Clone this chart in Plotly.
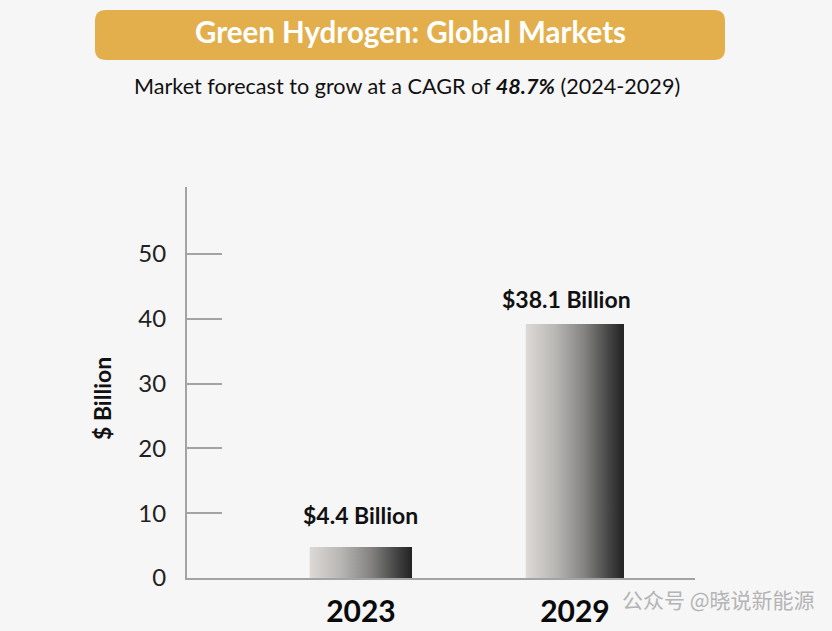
import plotly.graph_objects as go

categories = ["2023", "2029"]
positions = [0, 1]
values = [4.8, 39.2]
bar_widths = [0.477, 0.458]
value_labels = ["$4.4 Billion", "$38.1 Billion"]
y_ticks = [0, 10, 20, 30, 40, 50]

FONT = "Lato, Carlito, Open Sans, sans-serif"
GRADIENT = [[0, "#DCD9D6"], [0.3, "#B9B7B4"], [0.6, "#838281"], [0.85, "#444444"], [1, "#222222"]]
AXIS = "#A3A3A6"

fig = go.Figure()
fig.add_trace(go.Bar(x=positions, y=values, width=bar_widths, marker=dict(color="#808080", line_width=0),
                     hoverinfo="skip"))

for p, v, w in zip(positions, values, bar_widths):
    fig.add_trace(go.Scatter(
        x=[p - w / 2, p - w / 2, p + w / 2, p + w / 2, p - w / 2],
        y=[0, v, v, 0, 0],
        mode="lines", line=dict(width=0), fill="toself",
        fillgradient=dict(type="horizontal", colorscale=GRADIENT),
        hoverinfo="skip"))

for p, v, label, xs, ys in zip(positions, values, value_labels, [0, -8], [16, 9]):
    fig.add_annotation(x=p, y=v, text=f"<b>{label}</b>", showarrow=False, yanchor="bottom",
                       xshift=xs, yshift=ys, font=dict(family=FONT, size=23, color="#111111"))

fig.update_layout(
    width=832, height=631, showlegend=False,
    paper_bgcolor="#F6F6F7", plot_bgcolor="#F6F6F7",
    margin=dict(l=187, r=137, t=187, b=53, autoexpand=False),
    xaxis=dict(range=[-0.813, 1.561], tickvals=positions, ticktext=[f"<b>{c}</b>" for c in categories],
               showgrid=False, zeroline=False, showline=True, linecolor=AXIS, linewidth=2, ticks="",
               tickfont=dict(family=FONT, size=30, color="#0A0A0A"), ticklabelstandoff=6),
    yaxis=dict(range=[0, 60.34], tickvals=y_ticks, showgrid=False, zeroline=False,
               showline=True, linecolor=AXIS, linewidth=2,
               ticks="inside", ticklen=35, tickcolor=AXIS, tickwidth=1.5,
               tickfont=dict(family=FONT, size=24, color="#222222"), ticklabelstandoff=14),
)
# Banner in pixel-derived paper coordinates
W, H, L, T = 508.0, 391.0, 187.0, 187.0
def px(x): return (x - L) / W
def py(y): return 1 - (y - T) / H
x0, x1, y0, y1, r = 95, 725, 10, 60, 11
path = (f"M {px(x0+r)} {py(y0)} L {px(x1-r)} {py(y0)} Q {px(x1)} {py(y0)} {px(x1)} {py(y0+r)} "
        f"L {px(x1)} {py(y1-r)} Q {px(x1)} {py(y1)} {px(x1-r)} {py(y1)} L {px(x0+r)} {py(y1)} "
        f"Q {px(x0)} {py(y1)} {px(x0)} {py(y1-r)} L {px(x0)} {py(y0+r)} Q {px(x0)} {py(y0)} {px(x0+r)} {py(y0)} Z")
fig.layout.shapes = [dict(type="path", xref="paper", yref="paper", path=path, fillcolor="#E3AF4C", line_width=0)]

fig.add_annotation(xref="paper", yref="paper", x=px(410), y=py(32), xanchor="center", yanchor="middle",
                   text="<b>Green Hydrogen: Global Markets</b>",
                   showarrow=False, font=dict(family=FONT, size=29.5, color="#FFFFFF"))
fig.add_annotation(xref="paper", yref="paper", x=px(407), y=py(86), xanchor="center", yanchor="middle",
                   text="Market forecast to grow at a CAGR of <b><i>48.7%</i></b> (2024-2029)",
                   showarrow=False, font=dict(family=FONT, size=21.6, color="#111111"))
fig.add_annotation(xref="paper", yref="paper", x=px(102), y=py(399), xanchor="center", yanchor="middle",
                   text="<b>$ Billion</b>", textangle=-90,
                   showarrow=False, font=dict(family=FONT, size=23, color="#111111"))
fig.add_annotation(xref="paper", yref="paper", x=px(817), y=py(599), xanchor="right", yanchor="middle",
                   text="公众号 @晓说新能源", showarrow=False,
                   font=dict(family="Noto Sans CJK SC", size=21, color="#B4B4B4"))

fig.write_html("out.html", config=dict(displayModeBar=False),
               post_script="document.body.style.margin='0';document.body.style.background='#F6F6F7';")
